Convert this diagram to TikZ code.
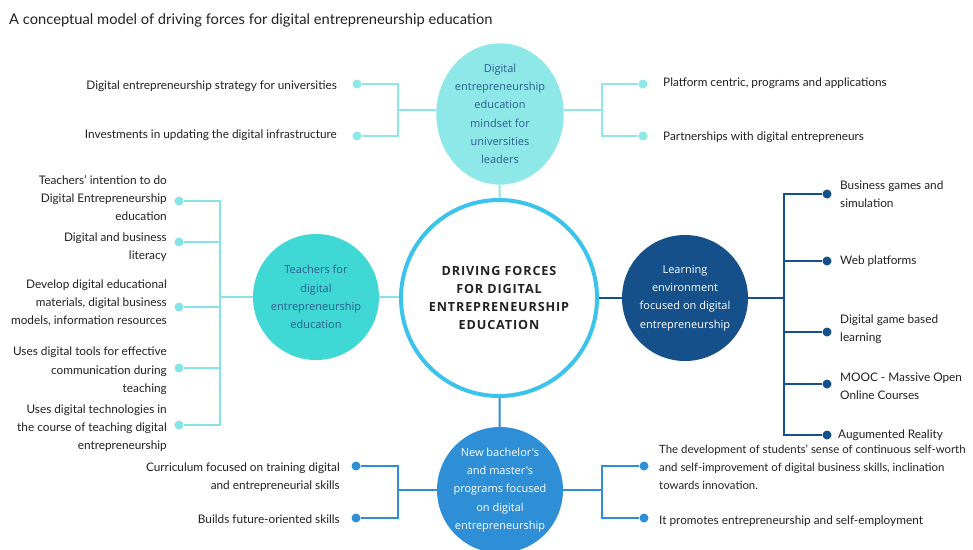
\documentclass[tikz,border=0pt]{standalone}
\usepackage{fontspec}
\setmainfont{Lato}
\newfontfamily\circfont{Open Sans}
\newfontfamily\hubfont[LetterSpace=7]{Open Sans}
\usetikzlibrary{shapes.geometric}
\definecolor{topc}{HTML}{8EE8E8}
\definecolor{teachline}{HTML}{86E4E8}
\definecolor{teachc}{HTML}{40D8D5}
\definecolor{mainc}{HTML}{3CC3EC}
\definecolor{learnc}{HTML}{16508A}
\definecolor{botc}{HTML}{2F8FD6}
\definecolor{darktxt}{HTML}{2B5E8E}
\definecolor{itemtxt}{HTML}{222222}
\begin{document}
\begin{tikzpicture}[x=1pt,y=-1pt,
  item/.style={font=\fontsize{11.8}{18.3}\selectfont, text=itemtxt, inner sep=0pt},
  itemr/.style={item, anchor=east, align=right},
  iteml/.style={item, anchor=west, align=left},
  dotnode/.style={circle, fill=#1, minimum size=9pt, inner sep=0pt},
  conn/.style={draw=#1, line width=2pt},
  bubble/.style={circle, fill=#1, minimum size=126pt, inner sep=0pt, align=center,
    font=\circfont\fontsize{11}{18.3}\selectfont}
]
\useasboundingbox (0,0) rectangle (973,549);
\fill[white] (0,0) rectangle (973,549);

\node[anchor=west, inner sep=0pt, font=\fontsize{14.7}{16}\selectfont, text=itemtxt] (title) at (9,20)
  {A conceptual model of driving forces for digital entrepreneurship education};

% main hub
\node[circle, draw=mainc, line width=4pt, fill=white, minimum size=196pt, inner sep=0pt,
  align=center, font=\hubfont\bfseries\fontsize{12.6}{18.3}\selectfont, text=itemtxt] (main) at (499,298)
  {DRIVING FORCES\\FOR DIGITAL\\ENTREPRENEURSHIP\\EDUCATION};

% top ellipse
\node[ellipse, fill=topc, minimum width=122pt, minimum height=138pt, inner sep=0pt, align=center,
  font=\circfont\fontsize{11}{18.3}\selectfont, text=darktxt] (top) at (500,114)
  {Digital\\entrepreneurship\\education\\mindset for\\universities\\leaders};
\draw[conn=topc] (top) -- (main);

% top-left
\coordinate (tlj) at (398,110);
\draw[conn=topc] (tlj) -- (tlj -| top.west);
\node[dotnode=topc] (tl1) at (357,84) {};
\node[dotnode=topc] (tl2) at (357,136) {};
\draw[conn=topc] (tl1) -| (tlj);
\draw[conn=topc] (tl2) -| (tlj);
\node[itemr] (tlt1) at (337,86) {Digital entrepreneurship strategy for universities};
\node[itemr] (tlt2) at (337,135) {Investments in updating the digital infrastructure};

% top-right
\coordinate (trj) at (602,110);
\draw[conn=topc] (trj) -- (trj -| top.east);
\node[dotnode=topc] (tr1) at (643,84) {};
\node[dotnode=topc] (tr2) at (643,136) {};
\draw[conn=topc] (tr1) -| (trj);
\draw[conn=topc] (tr2) -| (trj);
\node[iteml] (trt1) at (663,83) {Platform centric, programs and applications};
\node[iteml] (trt2) at (663,137) {Partnerships with digital entrepreneurs};

% teachers
\node[bubble=teachc, text=darktxt] (teach) at (316,297)
  {Teachers for\\digital\\entrepreneurship\\education};
\draw[conn=teachline] (teach) -- (teach -| main.west);
\coordinate (tj) at (220,297);
\draw[conn=teachline] (tj) -- (teach);
\foreach \n/\y in {1/201,2/242,3/307,4/368,5/425}{
  \node[dotnode=teachline] (td\n) at (179,\y) {};
  \draw[conn=teachline] (td\n) -| (tj);
}
\node[itemr] (tt1) at (167,198) {Teachers’ intention to do\\Digital Entrepreneurship\\education};
\node[itemr] (tt2) at (167,247) {Digital and business\\literacy};
\node[itemr] (tt3) at (167,303) {Develop digital educational\\materials, digital business\\models, information resources};
\node[itemr] (tt4) at (167,371) {Uses digital tools for effective\\communication during\\teaching};
\node[itemr] (tt5) at (167,428) {Uses digital technologies in\\the course of teaching digital\\entrepreneurship};

% learning environment
\node[bubble=learnc, text=white] (learn) at (685,298)
  {Learning\\environment\\focused on digital\\entrepreneurship};
\draw[conn=learnc] (learn) -- (learn -| main.east);
\coordinate (lj) at (784,298);
\draw[conn=learnc] (lj) -- (learn);
\foreach \n/\y in {1/194,2/261,3/332,4/384,5/435}{
  \node[dotnode=learnc] (ld\n) at (827,\y) {};
  \draw[conn=learnc] (ld\n) -| (lj);
}
\node[iteml] (lt1) at (840,194) {Business games and\\simulation};
\node[iteml] (lt2) at (840,261) {Web platforms};
\node[iteml] (lt3) at (840,329) {Digital game based\\learning};
\node[iteml] (lt4) at (840,386) {MOOC - Massive Open\\Online Courses};
\node[iteml] (lt5) at (838,435) {Augumented Reality};

% bottom programs
\node[bubble=botc, text=white] (bot) at (500,490)
  {New bachelor's\\and master's\\programs focused\\on digital\\entrepreneurship};
\draw[conn=botc] (main) -- (bot);
\coordinate (blj) at (398,490);
\draw[conn=botc] (blj) -- (bot);
\node[dotnode=botc] (bl1) at (356,466) {};
\node[dotnode=botc] (bl2) at (356,518) {};
\draw[conn=botc] (bl1) -| (blj);
\draw[conn=botc] (bl2) -| (blj);
\node[itemr] (blt1) at (340,477) {Curriculum focused on training digital\\and entrepreneurial skills};
\node[itemr] (blt2) at (340,519) {Builds future-oriented skills};

\coordinate (brj) at (602,490);
\draw[conn=botc] (brj) -- (bot);
\node[dotnode=botc] (br1) at (644,466) {};
\node[dotnode=botc] (br2) at (644,518) {};
\draw[conn=botc] (br1) -| (brj);
\draw[conn=botc] (br2) -| (brj);
\node[iteml, font=\fontsize{11.4}{18.3}\selectfont] (brt1) at (659,467) {The development of students' sense of continuous self-worth\\and self-improvement of digital business skills, inclination\\towards innovation.};
\node[iteml] (brt2) at (659,521) {It promotes entrepreneurship and self-employment};
\end{tikzpicture}
\end{document}
